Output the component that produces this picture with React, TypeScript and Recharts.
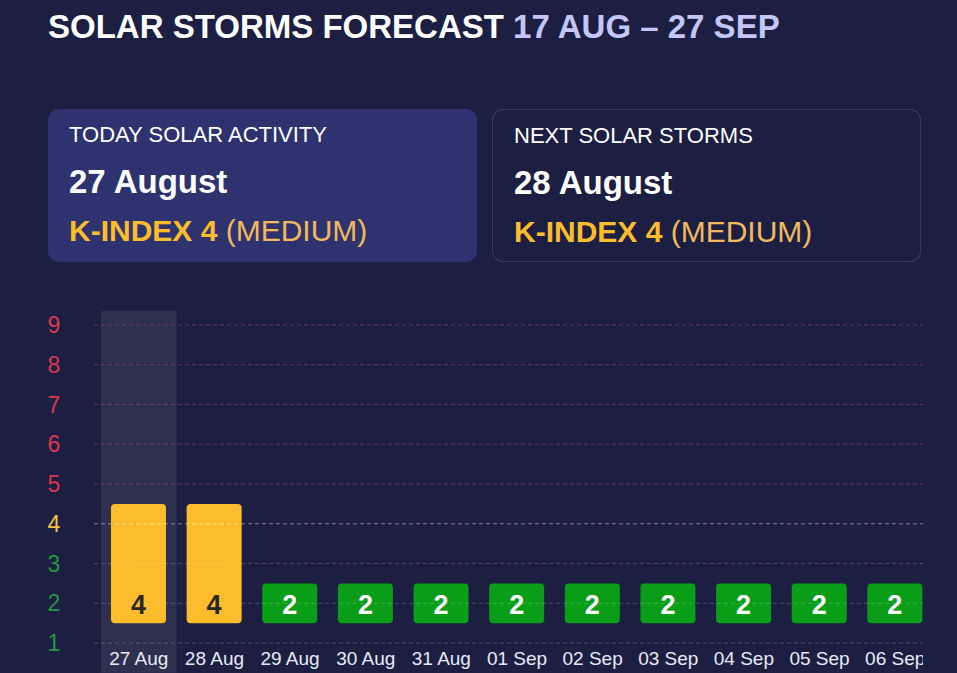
import React from "react";
import { BarChart, Bar, XAxis, YAxis, ReferenceArea, ReferenceLine, LabelList, Cell } from "recharts";

const days = ["27 Aug", "28 Aug", "29 Aug", "30 Aug", "31 Aug", "01 Sep", "02 Sep", "03 Sep", "04 Sep", "05 Sep", "06 Sep"];
const kIndex = [4, 4, 2, 2, 2, 2, 2, 2, 2, 2, 2];
const yTicks = [1, 2, 3, 4, 5, 6, 7, 8, 9];
const todayDay = "27 Aug";

const data = days.map((d, i) => ({ day: d, k: kIndex[i] }));

const BG = "#1c1f41";
const FONT = "'Liberation Sans', Arial, Helvetica, sans-serif";

const levelColor = (v: number) => (v >= 5 ? "#d8384f" : v === 4 ? "#f4c046" : "#1f9a3a");
const gridColor = (v: number) =>
  v >= 5 ? "rgba(214,70,110,0.45)" : v === 4 ? "rgba(255,255,255,0.45)" : "rgba(255,255,255,0.2)";
const barColor = (v: number) => (v >= 5 ? "#d8384f" : v === 4 ? "#fbbd2c" : "#0a9d17");

const YTick = (props: any) => {
  const v = props.payload.value;
  return (
    <text x={54} y={props.y + 8} textAnchor="middle" fill={levelColor(v)} fontSize={23} fontFamily={FONT}>
      {v}
    </text>
  );
};

const XTick = (props: any) => (
  <text x={props.x} y={props.y + 14} textAnchor="middle" fill="#e8eaf6" fontSize={19} fontFamily={FONT}>
    {props.payload.value}
  </text>
);

const BarLabel = (props: any) => {
  const { x, y, width, height, value } = props;
  return (
    <text
      x={x + width / 2}
      y={y + height - 9}
      textAnchor="middle"
      fill={value === 4 ? "#2a2626" : "#ffffff"}
      fontSize={27}
      fontWeight="bold"
      fontFamily={FONT}
    >
      {value}
    </text>
  );
};

const Card = ({ title, date, k, level, filled, left }: any) => (
  <div
    style={{
      position: "absolute",
      left,
      top: 109,
      width: 429,
      height: 153,
      boxSizing: "border-box",
      borderRadius: 11,
      background: filled ? "#2e336f" : BG,
      border: filled ? "none" : "1px solid rgba(255,255,255,0.13)",
    }}
  >
    <div style={{ position: "absolute", left: 21, top: 14.5, fontSize: 22, lineHeight: "22px", color: "#ffffff", whiteSpace: "nowrap" }}>
      {title}
    </div>
    <div style={{ position: "absolute", left: 21, top: 55.5, fontSize: 33, lineHeight: "33px", fontWeight: "bold", color: "#ffffff", whiteSpace: "nowrap" }}>
      {date}
    </div>
    <div style={{ position: "absolute", left: 21, top: 106.5, fontSize: 30, lineHeight: "30px", color: "#f0b95e", whiteSpace: "nowrap" }}>
      <span style={{ fontWeight: "bold", color: "#fbbd2c" }}>K-INDEX {k}</span> ({level})
    </div>
  </div>
);

export default function App() {
  return (
    <div style={{ position: "absolute", left: 0, top: 0, width: 957, height: 673, background: BG, overflow: "hidden", fontFamily: FONT }}>
      <div style={{ position: "absolute", left: 48, top: 10, fontSize: 33, lineHeight: "33px", fontWeight: "bold", color: "#ffffff", whiteSpace: "nowrap" }}>
        SOLAR STORMS FORECAST <span style={{ color: "#c3c6f6" }}>17 AUG – 27 SEP</span>
      </div>
      <Card left={48} filled title="TODAY SOLAR ACTIVITY" date="27 August" k={4} level="MEDIUM" />
      <Card left={492} title="NEXT SOLAR STORMS" date="28 August" k={4} level="MEDIUM" />
      <div style={{ position: "absolute", left: 0, top: 300, width: 923, height: 400, overflow: "hidden" }}>
        <BarChart width={933} height={373} data={data} margin={{ top: 25, right: 0, bottom: 0, left: 0 }} barSize={55}>
          <XAxis
            dataKey="day"
            axisLine={false}
            tickLine={false}
            padding={{ left: 7, right: 0 }}
            height={30}
            tick={<XTick />}
            interval={0}
          />
          <YAxis
            type="number"
            domain={[1, 9]}
            ticks={yTicks}
            axisLine={false}
            tickLine={false}
            width={94}
            tick={<YTick />}
            interval={0}
          />
          <ReferenceArea
            x1={todayDay}
            x2={todayDay}
            y1={0.25}
            y2={9.35}
            ifOverflow="visible"
            fill="#ffffff"
            fillOpacity={0.08}
            stroke="none"
          />
          {yTicks.map((v) => (
            <ReferenceLine key={v} y={v} stroke={gridColor(v)} strokeDasharray="4 3" strokeWidth={1} />
          ))}
          <Bar dataKey={(d: any) => [1.5, d.k + 0.5]} radius={4} isAnimationActive={false}>
            {data.map((d, i) => (
              <Cell key={i} fill={barColor(d.k)} />
            ))}
            <LabelList dataKey="k" content={<BarLabel />} />
          </Bar>
        </BarChart>
      </div>
    </div>
  );
}
